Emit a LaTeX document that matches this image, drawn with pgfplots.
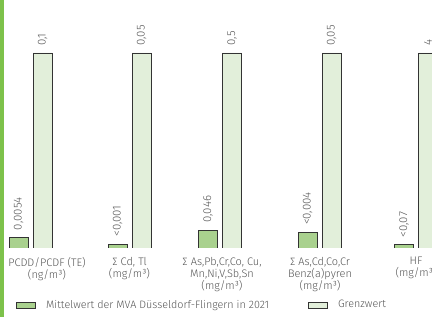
\documentclass[border=0pt]{standalone}
\usepackage{fontspec}
\setmainfont{Fira Sans Light}
\usepackage{pgfplots}
\usepackage{pgfplotstable}
\pgfplotsset{compat=1.18}
\definecolor{stripe}{HTML}{7DC24B}
\definecolor{mess}{HTML}{A9D18E}
\definecolor{grenz}{HTML}{E2EFDA}
\definecolor{edge}{HTML}{333333}
\definecolor{txt}{HTML}{555555}
\pgfplotstableread{
x m mlab g glab
30.5 0.0054 0,0054 0.1 0,1
129.5 0.001 <0,001 0.05 0,05
220 0.046 0,046 0.5 0,5
319.5 0.004 <0,004 0.05 0,05
416 0.07 <0,07 4 4
}\data
\begin{document}
\begin{tikzpicture}
\useasboundingbox (0,-69bp) rectangle (432bp,248bp);
\fill[stripe] (0,-69bp) rectangle (3.5bp,248bp);
\begin{axis}[
  at={(0,0)}, anchor=south west,
  scale only axis, width=432bp, height=248bp,
  xmin=0, xmax=432, ymin=0, ymax=1.2718,
  axis lines=none,
  ybar, bar width=19bp,
  xtick=\empty, ytick=\empty,
  point meta=explicit symbolic,
  nodes near coords,
  every node near coord/.append style={rotate=90, anchor=west, inner xsep=7bp, inner ysep=0pt, font=\fontsize{11.5}{13}\selectfont, text=txt},
  legend columns=2,
  legend style={at={(0,0)}, anchor=west, xshift=16bp, yshift=-57bp, draw=none, fill=none, inner sep=0pt,
    font=\fontsize{10.8}{13}\selectfont, text=txt,
    nodes={inner xsep=0pt},
    /tikz/every odd column/.append style={column sep=10bp},
    /tikz/every even column/.append style={column sep=39bp}},
  legend image code/.code={\draw[#1] (0bp,-3bp) rectangle (19bp,3bp);},
]
\addplot[fill=mess, draw=edge, line width=0.9pt, bar shift=-12bp] table[x=x, y expr=\thisrow{m}/\thisrow{g}, meta=mlab] {\data};
\addlegendentry{Mittelwert der MVA Düsseldorf-Flingern in 2021}
\addplot[fill=grenz, draw=edge, line width=0.9pt, bar shift=12bp] table[x=x, y expr=\thisrow{g}/\thisrow{g}, meta=glab] {\data};
\addlegendentry{Grenzwert}
\end{axis}
\begin{scope}[every node/.style={align=center, anchor=north, font=\fontsize{11}{12}\selectfont, text=txt, inner sep=0pt}]
\node at (47bp,-9bp) {PCDD/PCDF (TE)\\(ng/m³)};
\node at (129.5bp,-9bp) {∑ Cd, Tl\\(mg/m³)};
\node at (222bp,-9bp) {∑ As,Pb,Cr,Co, Cu,\\Mn,Ni,V,Sb,Sn\\(mg/m³)};
\node at (320bp,-9bp) {∑ As,Cd,Co,Cr\\Benz(a)pyren\\(mg/m³)};
\node at (416bp,-9bp) {HF\\(mg/m³)};
\end{scope}
\end{tikzpicture}
\end{document}
